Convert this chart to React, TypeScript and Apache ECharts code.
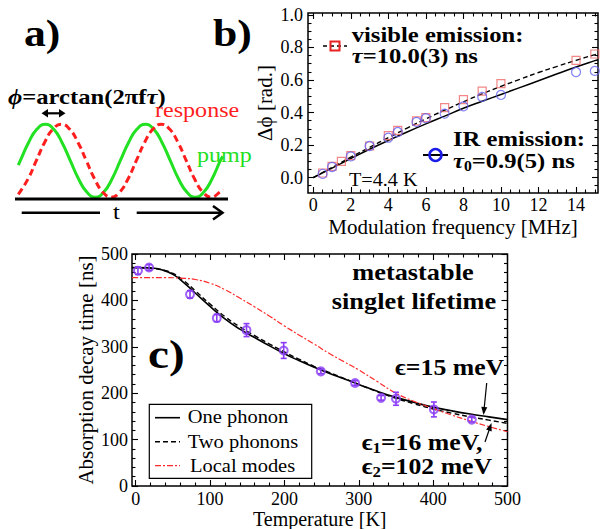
import React, { useEffect, useRef } from 'react';
import * as echarts from 'echarts';

const FONT = "'Liberation Serif', 'Times New Roman', Times, serif";

// ---------- Panel a: schematic (time in periods, normalised amplitude)
const pumpT = [0, 0.02, 0.103, 0.187, 0.27, 0.353, 0.437, 0.52, 0.603, 0.687, 0.77, 0.853, 0.937, 1.02, 1.103, 1.187, 1.27, 1.353, 1.437, 1.52, 1.603, 1.687, 1.77, 1.853, 1.937, 2.02, 2.045];
const pumpY = [-0.12, 0, 0.5, 0.866, 1, 0.866, 0.5, 0, -0.5, -0.866, -1, -0.866, -0.5, 0, 0.5, 0.866, 1, 0.866, 0.5, 0, -0.5, -0.866, -1, -0.866, -0.5, 0, 0.12];
const respT = [0, 0.097, 0.18, 0.263, 0.347, 0.43, 0.513, 0.597, 0.68, 0.763, 0.847, 0.93, 1.013, 1.097, 1.18, 1.263, 1.347, 1.43, 1.513, 1.597, 1.68, 1.763, 1.847, 1.93, 2.013, 2.045];
const respY = [-0.92, -0.5, 0, 0.5, 0.866, 1, 0.866, 0.5, 0, -0.5, -0.866, -1, -0.866, -0.5, 0, 0.5, 0.866, 1, 0.866, 0.5, 0, -0.5, -0.866, -1, -0.866, -0.78];

// ---------- Panel b: phase lag vs modulation frequency
const visFreq = [0.5, 1, 1.5, 2, 3, 4, 4.5, 5.5, 6, 7, 8, 9, 10, 14, 15];
const visPhase = [0.028, 0.069, 0.1, 0.135, 0.194, 0.258, 0.29, 0.348, 0.368, 0.43, 0.479, 0.532, 0.578, 0.721, 0.76];
const irFreq = [0.5, 1, 2, 3, 4, 4.5, 5.5, 6, 7, 8, 9, 10, 14, 15];
const irPhase = [0.023, 0.065, 0.13, 0.194, 0.245, 0.28, 0.342, 0.365, 0.393, 0.438, 0.496, 0.508, 0.649, 0.656];
const fitFreq = [0, 1, 2, 3, 4, 5, 6, 7, 8, 9, 10, 11, 12, 13, 14, 15, 15.17];
const fitVisible = [0, 0.063, 0.125, 0.186, 0.245, 0.304, 0.361, 0.414, 0.466, 0.515, 0.561, 0.604, 0.646, 0.684, 0.721, 0.756, 0.762];
const fitIR = [0, 0.058, 0.117, 0.174, 0.228, 0.28, 0.33, 0.378, 0.426, 0.469, 0.511, 0.553, 0.595, 0.638, 0.68, 0.719, 0.725];
const bXLabels = [0, 2, 4, 6, 8, 10, 12, 14];
const bYLabels = [0, 0.2, 0.4, 0.6, 0.8, 1.0];

// ---------- Panel c: absorption decay time vs temperature
const tempK = [3, 18, 73, 109, 149, 199, 249, 295, 330, 350, 401, 452];
const decayNs = [464, 471, 413, 362, 336, 292, 247, 222, 190, 188, 165, 143];
const decayErr = [8, 6, 8, 8, 14, 17, 5, 5, 5, 14, 16, 5];
const fitT = [-5, 0, 20, 35, 50, 65, 80, 100, 120, 140, 160, 180, 200, 220, 240, 260, 280, 300, 325, 350, 375, 400, 425, 450, 475, 500];
const onePhonon = [471, 471, 470, 466, 456, 438, 416, 387, 360, 338, 320, 302, 285, 270, 256, 243, 231, 219, 204, 191, 180, 170, 162, 155, 149, 143];
const twoPhonons = [470, 470, 469, 466, 458, 442, 421, 392, 365, 343, 324, 306, 289, 273, 258, 245, 232, 219, 203, 189, 177, 166, 157, 149, 142, 135];
const localT = [-5, 0, 40, 60, 80, 100, 120, 140, 160, 180, 200, 220, 240, 260, 280, 300, 325, 350, 375, 400, 425, 450, 475, 500];
const localModes = [449, 449, 449, 448, 445, 437, 423, 405, 386, 366, 345, 325, 306, 286, 268, 250, 225, 200, 182, 167, 153, 140, 128, 117];
const cXLabels = [0, 100, 200, 300, 400, 500];
const cYLabels = [0, 100, 200, 300, 400, 500];

const GREEN = '#22e022';
const RED = '#ff1e1e';
const SQ = '#f06868';
const CI = '#6262f2';
const PURPLE = '#8a3cf5';

function steps(a: number, b: number, s: number): number[] {
  const r: number[] = [];
  for (let v = a; v <= b + 1e-9; v += s) r.push(+v.toFixed(4));
  return r;
}
function minors(a: number, b: number, s: number, majors: number[]): number[] {
  return steps(a, b, s).filter((v) => !majors.some((m) => Math.abs(m - v) < 1e-6));
}

function frameAxis(grid: number, side: string, min: number, max: number, ticks: number[], len: number, extra: any = {}) {
  return {
    gridIndex: grid,
    type: 'value',
    position: side,
    min,
    max,
    axisLine: { show: false, onZero: false },
    splitLine: { show: false },
    axisTick: { show: true, inside: true, length: len, customValues: ticks, lineStyle: { color: '#000', width: 1.1 } },
    axisLabel: { show: false },
    ...extra,
  };
}

function labelCfg(values: number[], fmt: (v: number) => string, margin: number) {
  return {
    show: true,
    customValues: values,
    formatter: fmt,
    fontFamily: FONT,
    fontSize: 18,
    color: '#000',
    margin,
  };
}

function nameCfg(name: string, gap: number, size = 21) {
  return {
    name,
    nameLocation: 'middle',
    nameGap: gap,
    nameMoveOverlap: false,
    nameTextStyle: { fontFamily: FONT, fontSize: size, color: '#000' },
  };
}

function txt(x: number, y: number, text: string, size: number, o: any = {}) {
  return {
    type: 'text',
    x,
    y,
    scaleX: o.sx ?? 1.12,
    z: 100,
    silent: true,
    style: {
      text,
      fontFamily: FONT,
      fontSize: size,
      fontWeight: o.bold ? 'bold' : 'normal',
      fontStyle: o.italic ? 'italic' : 'normal',
      fill: o.color || '#000',
      align: o.align || 'left',
      verticalAlign: 'middle',
      textAlign: o.align || 'left',
      textVerticalAlign: 'middle',
      rich: o.rich,
    },
  };
}

function richSet(size: number, sub: number) {
  return {
    b: { fontFamily: FONT, fontSize: size, fontWeight: 'bold', lineHeight: size + 4, fill: '#000', color: '#000' },
    i: { fontFamily: FONT, fontSize: size, fontWeight: 'bold', fontStyle: 'italic', lineHeight: size + 4, fill: '#000', color: '#000' },
    s: { fontFamily: FONT, fontSize: sub, fontWeight: 'bold', verticalAlign: 'bottom', fill: '#000', color: '#000' },
  };
}

function line(x1: number, y1: number, x2: number, y2: number, w: number, color = '#000', dash?: number[]) {
  return { type: 'line', z: 100, silent: true, shape: { x1, y1, x2, y2 }, style: { stroke: color, lineWidth: w, lineDash: dash } };
}
function poly(points: number[][], color = '#000') {
  return { type: 'polygon', z: 100, silent: true, shape: { points }, style: { fill: color } };
}

export default function App() {
  const ref = useRef<HTMLDivElement>(null);
  useEffect(() => {
    if (!ref.current) return;
    const chart = echarts.init(ref.current, null, { renderer: 'svg' });

    const bxMin = -0.28, bxMax = 15.17, byMin = -0.095, byMax = 1.012;
    const cxMin = -5, cxMax = 500, cyMin = 0, cyMax = 500;
    const bxMinor = minors(0, 15, 0.5, bXLabels);
    const byMinor = minors(-0.05, 1.0, 0.05, bYLabels);
    const cxMinor = minors(0, 500, 20, cXLabels);
    const cyMinor = minors(0, 500, 20, cYLabels);

    const grids = [
      { left: 18.3, top: 124.2, width: 204.5, height: 73, show: false, containLabel: false, outerBoundsMode: 'none' },
      { left: 308, top: 13, width: 290, height: 180, show: true, borderColor: '#000', borderWidth: 1.5, backgroundColor: 'rgba(0,0,0,0)', containLabel: false, outerBoundsMode: 'none' },
      { left: 132, top: 254, width: 375.5, height: 232, show: true, borderColor: '#000', borderWidth: 1.5, backgroundColor: 'rgba(0,0,0,0)', containLabel: false, outerBoundsMode: 'none' },
    ];

    const xAxes = [
      { gridIndex: 0, type: 'value', min: 0, max: 2.045, show: false },
      frameAxis(1, 'bottom', bxMin, bxMax, bXLabels, 6, {
        axisLabel: labelCfg(bXLabels, (v) => String(v), 3),
        ...nameCfg('Modulation frequency [MHz]', 23),
      }),
      frameAxis(1, 'bottom', bxMin, bxMax, bxMinor, 3.5),
      frameAxis(1, 'top', bxMin, bxMax, bXLabels, 6),
      frameAxis(1, 'top', bxMin, bxMax, bxMinor, 3.5),
      frameAxis(2, 'bottom', cxMin, cxMax, cXLabels, 6, {
        axisLabel: labelCfg(cXLabels, (v) => String(v), 4),
        ...nameCfg('Temperature [K]', 22.5, 20),
      }),
      frameAxis(2, 'bottom', cxMin, cxMax, cxMinor, 3.5),
      frameAxis(2, 'top', cxMin, cxMax, cXLabels, 6),
      frameAxis(2, 'top', cxMin, cxMax, cxMinor, 3.5),
    ];
    const yAxes = [
      { gridIndex: 0, type: 'value', min: -1, max: 1, show: false },
      frameAxis(1, 'left', byMin, byMax, bYLabels, 6, {
        axisLabel: labelCfg(bYLabels, (v) => v.toFixed(1), 5),
        ...nameCfg('Δϕ [rad.]', 33),
      }),
      frameAxis(1, 'left', byMin, byMax, byMinor, 3.5),
      frameAxis(1, 'right', byMin, byMax, bYLabels, 6),
      frameAxis(1, 'right', byMin, byMax, byMinor, 3.5),
      frameAxis(2, 'left', cyMin, cyMax, cYLabels, 6, {
        axisLabel: labelCfg(cYLabels, (v) => String(v), 4),
        ...nameCfg('Absorption decay time [ns]', 36),
      }),
      frameAxis(2, 'left', cyMin, cyMax, cyMinor, 3.5),
      frameAxis(2, 'right', cyMin, cyMax, cYLabels, 6),
      frameAxis(2, 'right', cyMin, cyMax, cyMinor, 3.5),
    ];

    const pair = (xs: number[], ys: number[]) => xs.map((x, i) => [x, ys[i]]);

    const series: any[] = [
      // panel a
      {
        type: 'line', xAxisIndex: 0, yAxisIndex: 0, data: pair(pumpT, pumpY), smooth: true, symbol: 'none', clip: false,
        lineStyle: { color: GREEN, width: 3 }, silent: true, z: 2,
      },
      {
        type: 'line', xAxisIndex: 0, yAxisIndex: 0, data: pair(respT, respY), smooth: true, symbol: 'none', clip: false,
        lineStyle: { color: RED, width: 3, type: [7, 4] }, silent: true, z: 3,
      },
      // panel b
      {
        type: 'line', xAxisIndex: 1, yAxisIndex: 1, data: pair(fitFreq, fitVisible), smooth: true, symbol: 'none',
        lineStyle: { color: '#000', width: 1.4, type: [5, 3] }, silent: true, z: 2,
      },
      {
        type: 'line', xAxisIndex: 1, yAxisIndex: 1, data: pair(fitFreq, fitIR), smooth: true, symbol: 'none',
        lineStyle: { color: '#000', width: 1.5 }, silent: true, z: 2,
      },
      {
        type: 'scatter', xAxisIndex: 1, yAxisIndex: 1, data: pair(visFreq, visPhase), symbol: 'rect', symbolSize: 8,
        itemStyle: { color: 'rgba(0,0,0,0)', borderColor: SQ, borderWidth: 1.2 }, silent: true, z: 3,
      },
      {
        type: 'scatter', xAxisIndex: 1, yAxisIndex: 1, data: pair(irFreq, irPhase), symbol: 'circle', symbolSize: 9,
        itemStyle: { color: 'rgba(0,0,0,0)', borderColor: CI, borderWidth: 1.2 }, silent: true, z: 3,
      },
      // panel c
      {
        type: 'line', xAxisIndex: 5, yAxisIndex: 5, data: pair(fitT, onePhonon), smooth: true, symbol: 'none',
        lineStyle: { color: '#000', width: 1.6 }, silent: true, z: 2,
      },
      {
        type: 'line', xAxisIndex: 5, yAxisIndex: 5, data: pair(fitT, twoPhonons), smooth: true, symbol: 'none',
        lineStyle: { color: '#000', width: 1.4, type: [5, 3] }, silent: true, z: 2,
      },
      {
        type: 'line', xAxisIndex: 5, yAxisIndex: 5, data: pair(localT, localModes), smooth: true, symbol: 'none',
        lineStyle: { color: '#ff2a2a', width: 1.2, type: [6, 2, 2, 2] }, silent: true, z: 2,
      },
      {
        type: 'custom', xAxisIndex: 5, yAxisIndex: 5, silent: true, z: 3,
        encode: { x: 0, y: [1, 2] },
        data: tempK.map((t, i) => [t, decayNs[i] - decayErr[i], decayNs[i] + decayErr[i]]),
        renderItem: (params: any, api: any) => {
          const x = api.value(0);
          const lo = api.coord([x, api.value(1)]);
          const hi = api.coord([x, api.value(2)]);
          const w = 3;
          const st = { stroke: PURPLE, lineWidth: 1.6 };
          return {
            type: 'group',
            children: [
              { type: 'line', shape: { x1: lo[0], y1: lo[1], x2: hi[0], y2: hi[1] }, style: st },
              { type: 'line', shape: { x1: lo[0] - w, y1: lo[1], x2: lo[0] + w, y2: lo[1] }, style: st },
              { type: 'line', shape: { x1: hi[0] - w, y1: hi[1], x2: hi[0] + w, y2: hi[1] }, style: st },
            ],
          };
        },
      },
      {
        type: 'scatter', xAxisIndex: 5, yAxisIndex: 5, data: pair(tempK, decayNs), symbol: 'circle', symbolSize: 8,
        itemStyle: { color: 'rgba(0,0,0,0)', borderColor: PURPLE, borderWidth: 2 }, silent: true, z: 4,
      },
    ];

    const elements: any[] = [
      // panel labels
      txt(24, 33, 'a)', 38, { bold: true, sx: 1.15 }),
      txt(213, 33, 'b)', 38, { bold: true, sx: 1.15 }),
      txt(148, 354, 'c)', 40, { bold: true, sx: 1.18 }),
      // panel a annotations
      txt(8, 96, '{i|ϕ}{b|=arctan(2π}{b|f}{i|τ}{b|)}', 22, { rich: richSet(22, 14) }),
      line(45, 113.3, 61, 113.3, 2.2),
      poly([[41.5, 113.3], [48, 109], [48, 117.6]]),
      poly([[65.5, 113.3], [59, 109], [59, 117.6]]),
      txt(155, 110, 'response', 21.5, { color: RED }),
      txt(197, 155, 'pump', 21.5, { color: GREEN }),
      line(15, 199, 228, 199, 3),
      line(21.7, 212.7, 100, 212.7, 2.5),
      line(136.7, 212.7, 221, 212.7, 2.5),
      { type: 'polyline', z: 100, silent: true, shape: { points: [[213, 206], [222.5, 212.7], [213, 219.4]] }, style: { stroke: '#000', lineWidth: 2.5, fill: null } },
      txt(116.5, 211, 't', 22, { align: 'center' }),
      // panel b annotations
      txt(351.7, 34, 'visible emission:', 22, { bold: true }),
      txt(351.7, 55, '{i|τ}{b|=10.0(3) ns}', 22, { rich: richSet(22, 14) }),
      line(323, 46, 347, 46, 1.5, '#000', [4, 3]),
      { type: 'rect', z: 101, silent: true, shape: { x: 330.5, y: 41.5, width: 9, height: 9 }, style: { fill: 'rgba(0,0,0,0)', stroke: '#e82222', lineWidth: 2 } },
      txt(453, 138, 'IR emission:', 22, { bold: true }),
      txt(453, 160, '{i|τ}{s|0}{b|=0.9(5) ns}', 22, { rich: richSet(22, 14) }),
      line(423, 155, 448, 155, 2),
      { type: 'circle', z: 101, silent: true, shape: { cx: 435.5, cy: 155, r: 6 }, style: { fill: 'rgba(0,0,0,0)', stroke: '#1c1ce8', lineWidth: 2.5 } },
      txt(349, 180, 'T=4.4 K', 18),
      // panel c annotations
      txt(413, 272, 'metastable', 23.5, { bold: true, align: 'center' }),
      txt(414, 301, 'singlet lifetime', 23.5, { bold: true, align: 'center' }),
      txt(395, 367, 'ϵ=15 meV', 23, { bold: true }),
      line(486.7, 383, 484.2, 408, 1.2),
      poly([[483.5, 415], [487.3, 407.3], [481.3, 406.7]]),
      txt(361.7, 442, '{b|ϵ}{s|1}{b|=16 meV,}', 23, { rich: richSet(23, 15) }),
      txt(361.7, 466, '{b|ϵ}{s|2}{b|=102 meV}', 23, { rich: richSet(23, 15) }),
      line(485, 442, 489.2, 429.8, 1.2),
      poly([[491.5, 423], [491.7, 431.5], [486.1, 429.6]]),
      // panel c legend
      { type: 'rect', z: 99, silent: true, shape: { x: 149.3, y: 404.3, width: 162.4, height: 74 }, style: { fill: '#fff', stroke: '#000', lineWidth: 1.2 } },
      line(155, 417.7, 180, 417.7, 1.6),
      line(155, 441.7, 180, 441.7, 1.4, '#000', [5, 3]),
      line(155, 465.7, 180, 465.7, 1.2, '#ff2a2a', [6, 2, 2, 2]),
      txt(187.7, 417, 'One phonon', 18.3),
      txt(187.7, 441.5, 'Two phonons', 18.3),
      txt(190, 466, 'Local modes', 18.3),
    ];

    chart.setOption({
      animation: false,
      backgroundColor: '#fff',
      textStyle: { fontFamily: FONT },
      grid: grids,
      xAxis: xAxes,
      yAxis: yAxes,
      series,
      graphic: { elements },
    });
    return () => chart.dispose();
  }, []);
  return <div ref={ref} style={{ position: 'absolute', left: 0, top: 0, width: 600, height: 529, background: '#fff' }} />;
}
